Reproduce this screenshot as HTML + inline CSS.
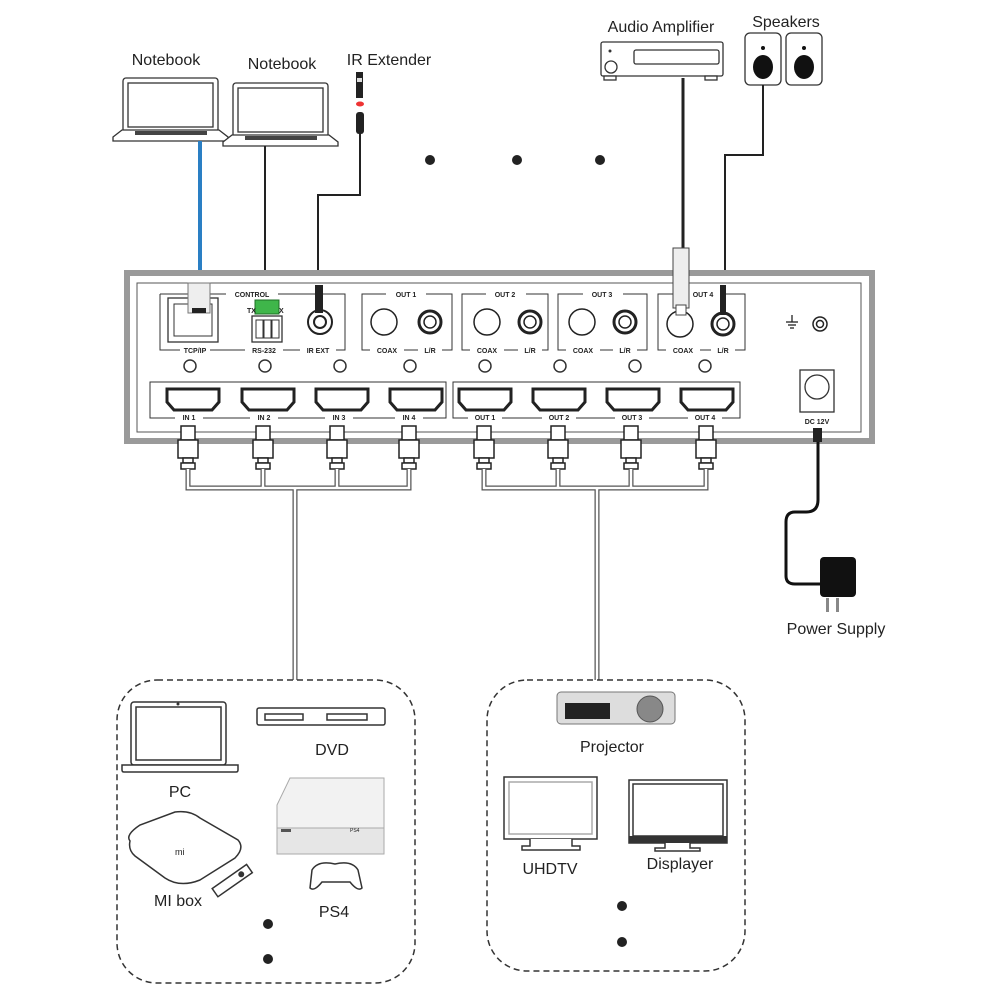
<!DOCTYPE html>
<html><head><meta charset="utf-8"><style>
html,body{margin:0;padding:0;background:#fff;}
svg{display:block;}
text{font-family:"Liberation Sans",Arial,sans-serif;fill:#222;}
.s{font-size:7px;font-weight:bold;}
</style></head><body>
<svg width="1000" height="1000" viewBox="0 0 1000 1000" xmlns="http://www.w3.org/2000/svg">
<defs>
<g id="pl"><rect x="-7" y="0" width="14" height="14"/><rect x="-10" y="14" width="20" height="18"/><rect x="-5" y="32" width="10" height="5"/><rect x="-7" y="37" width="14" height="6"/></g>
</defs>
<!-- Top labels -->
<text x="166" y="65" font-size="16" text-anchor="middle">Notebook</text>
<text x="282" y="69" font-size="16" text-anchor="middle">Notebook</text>
<text x="389" y="65" font-size="16" text-anchor="middle">IR Extender</text>
<text x="661" y="32" font-size="16" text-anchor="middle">Audio Amplifier</text>
<text x="786" y="27" font-size="16" text-anchor="middle">Speakers</text>

<g fill="#fff" stroke="#333" stroke-width="1.3">
<rect x="123" y="78" width="95" height="54" rx="3"/>
<rect x="128" y="83" width="85" height="44" fill="#fff"/>
<path d="M113 137 L122 130 L219 130 L228 137 L228 141 L113 141Z"/>
<rect x="233" y="83" width="95" height="55" rx="3"/>
<rect x="238" y="88" width="85" height="44"/>
<path d="M223 142 L232 135 L329 135 L338 142 L338 146 L223 146Z"/>
</g>
<rect x="135" y="131" width="72" height="4" fill="#444"/>
<rect x="245" y="136" width="72" height="4" fill="#444"/>

<rect x="356" y="72" width="7" height="26" fill="#222"/>
<rect x="357" y="78" width="5" height="4" fill="#ddd"/>
<ellipse cx="360" cy="104" rx="4" ry="2.5" fill="#e33"/>
<rect x="356" y="112" width="8" height="22" rx="3" fill="#222"/>

<line x1="200" y1="141" x2="200" y2="285" stroke="#2a7fc4" stroke-width="4"/>
<line x1="265" y1="146" x2="265" y2="300" stroke="#222" stroke-width="2"/>
<polyline points="360,134 360,195 318,195 318,300" fill="none" stroke="#222" stroke-width="2"/>
<circle cx="430" cy="160" r="5" fill="#222"/>
<circle cx="517" cy="160" r="5" fill="#222"/>
<circle cx="600" cy="160" r="5" fill="#222"/>

<g stroke="#333" stroke-width="1.3" fill="#fff">
<rect x="601" y="42" width="122" height="34" rx="2"/>
<rect x="634" y="50" width="85" height="14" rx="2"/>
<circle cx="611" cy="67" r="6"/>
<rect x="604" y="76" width="12" height="4"/>
<rect x="705" y="76" width="12" height="4"/>
</g>
<circle cx="610" cy="51" r="1.5" fill="#333"/>
<line x1="683" y1="78" x2="683" y2="248" stroke="#222" stroke-width="3"/>
<g stroke="#333" stroke-width="1.3" fill="#fff">
<rect x="745" y="33" width="36" height="52" rx="5"/>
<rect x="786" y="33" width="36" height="52" rx="5"/>
</g>
<circle cx="763" cy="48" r="2" fill="#111"/><circle cx="804" cy="48" r="2" fill="#111"/>
<ellipse cx="763" cy="67" rx="10" ry="12" fill="#111"/>
<ellipse cx="804" cy="67" rx="10" ry="12" fill="#111"/>
<polyline points="763,85 763,155 725,155 725,300" fill="none" stroke="#222" stroke-width="2"/>

<rect x="127" y="273" width="745" height="168" fill="#fff" stroke="#9a9a9a" stroke-width="6"/>
<rect x="137" y="283" width="724" height="149" fill="#fff" stroke="#555" stroke-width="1"/>

<g fill="none" stroke="#333" stroke-width="1">
<path d="M160 294 V350 H345 V294 H160"/>
<path d="M362 294 V350 H452 V294Z"/>
<path d="M462 294 V350 H548 V294Z"/>
<path d="M558 294 V350 H647 V294Z"/>
<path d="M658 294 V350 H745 V294Z"/>
</g>
<g fill="#fff">
<rect x="226" y="289" width="52" height="10"/>
<rect x="180" y="345" width="30" height="10"/>
<rect x="245" y="345" width="38" height="10"/>
<rect x="300" y="345" width="36" height="10"/>
<rect x="386" y="289" width="40" height="10"/><rect x="486" y="289" width="40" height="10"/>
<rect x="583" y="289" width="40" height="10"/><rect x="683" y="289" width="40" height="10"/>
<rect x="370" y="345" width="34" height="10"/><rect x="418" y="345" width="24" height="10"/>
<rect x="470" y="345" width="34" height="10"/><rect x="518" y="345" width="24" height="10"/>
<rect x="566" y="345" width="34" height="10"/><rect x="613" y="345" width="24" height="10"/>
<rect x="666" y="345" width="34" height="10"/><rect x="711" y="345" width="24" height="10"/>
</g>
<text class="s" x="252" y="297" text-anchor="middle">CONTROL</text>
<text class="s" x="195" y="353" text-anchor="middle">TCP/IP</text>
<text class="s" x="264" y="353" text-anchor="middle">RS-232</text>
<text class="s" x="318" y="353" text-anchor="middle">IR EXT</text>
<text class="s" x="406" y="297" text-anchor="middle">OUT 1</text>
<text class="s" x="505" y="297" text-anchor="middle">OUT 2</text>
<text class="s" x="602" y="297" text-anchor="middle">OUT 3</text>
<text class="s" x="703" y="297" text-anchor="middle">OUT 4</text>
<text class="s" x="387" y="353" text-anchor="middle">COAX</text><text class="s" x="430" y="353" text-anchor="middle">L/R</text>
<text class="s" x="487" y="353" text-anchor="middle">COAX</text><text class="s" x="530" y="353" text-anchor="middle">L/R</text>
<text class="s" x="583" y="353" text-anchor="middle">COAX</text><text class="s" x="625" y="353" text-anchor="middle">L/R</text>
<text class="s" x="683" y="353" text-anchor="middle">COAX</text><text class="s" x="723" y="353" text-anchor="middle">L/R</text>

<rect x="168" y="298" width="50" height="44" fill="#fff" stroke="#333" stroke-width="1.3"/>
<path d="M174 304 H212 V336 H174Z" fill="none" stroke="#333"/>
<rect x="188" y="283" width="22" height="30" fill="#eee" stroke="#777"/>
<rect x="192" y="308" width="14" height="5" fill="#222"/>
<rect x="252" y="316" width="30" height="26" fill="#fff" stroke="#333" stroke-width="1.3"/>
<rect x="256" y="320" width="7" height="18" fill="none" stroke="#333"/><rect x="264" y="320" width="7" height="18" fill="none" stroke="#333"/><rect x="272" y="320" width="7" height="18" fill="none" stroke="#333"/>
<rect x="255" y="300" width="24" height="14" fill="#3fb64a" stroke="#1d6f24"/>
<text class="s" x="247" y="313">TX</text><text class="s" x="279" y="313">X</text>
<circle cx="320" cy="322" r="12" fill="#fff" stroke="#222" stroke-width="2"/>
<circle cx="320" cy="322" r="6" fill="#fff" stroke="#222" stroke-width="2"/>
<rect x="315" y="285" width="8" height="28" fill="#222"/>
<g fill="#fff" stroke="#222" stroke-width="1.5">
<circle cx="384" cy="322" r="13"/><circle cx="430" cy="322" r="11" stroke-width="3"/><circle cx="430" cy="322" r="6"/>
<circle cx="487" cy="322" r="13"/><circle cx="530" cy="322" r="11" stroke-width="3"/><circle cx="530" cy="322" r="6"/>
<circle cx="582" cy="322" r="13"/><circle cx="625" cy="322" r="11" stroke-width="3"/><circle cx="625" cy="322" r="6"/>
<circle cx="680" cy="324" r="13"/><circle cx="723" cy="324" r="11" stroke-width="3"/><circle cx="723" cy="324" r="6"/>
<circle cx="820" cy="324" r="7"/><circle cx="820" cy="324" r="3.5"/>
</g>
<rect x="673" y="248" width="16" height="60" fill="#eee" stroke="#444"/>
<rect x="676" y="305" width="10" height="10" fill="#fff" stroke="#444"/>
<rect x="720" y="285" width="6" height="30" fill="#222"/>
<g stroke="#222" stroke-width="1.3"><line x1="792" y1="315" x2="792" y2="322"/><line x1="786" y1="322" x2="798" y2="322"/><line x1="788" y1="325" x2="796" y2="325"/><line x1="790" y1="328" x2="794" y2="328"/></g>
<g fill="#fff" stroke="#333" stroke-width="1.5">
<circle cx="190" cy="366" r="6"/><circle cx="265" cy="366" r="6"/><circle cx="340" cy="366" r="6"/><circle cx="410" cy="366" r="6"/>
<circle cx="485" cy="366" r="6"/><circle cx="560" cy="366" r="6"/><circle cx="635" cy="366" r="6"/><circle cx="705" cy="366" r="6"/>
</g>
<g fill="none" stroke="#333" stroke-width="1">
<path d="M150 382 V418 H446 V382 Z" />
<path d="M453 382 V418 H740 V382 Z" />
</g>
<g fill="#fff">
<rect x="175" y="413" width="28" height="10"/><rect x="250" y="413" width="28" height="10"/><rect x="325" y="413" width="28" height="10"/><rect x="395" y="413" width="28" height="10"/>
<rect x="468" y="413" width="34" height="10"/><rect x="542" y="413" width="34" height="10"/><rect x="615" y="413" width="34" height="10"/><rect x="688" y="413" width="34" height="10"/>
</g>
<text class="s" x="189" y="420" text-anchor="middle">IN 1</text><text class="s" x="264" y="420" text-anchor="middle">IN 2</text><text class="s" x="339" y="420" text-anchor="middle">IN 3</text><text class="s" x="409" y="420" text-anchor="middle">IN 4</text>
<text class="s" x="485" y="420" text-anchor="middle">OUT 1</text><text class="s" x="559" y="420" text-anchor="middle">OUT 2</text><text class="s" x="632" y="420" text-anchor="middle">OUT 3</text><text class="s" x="705" y="420" text-anchor="middle">OUT 4</text>
<g fill="#fff" stroke="#222" stroke-width="3">
<path d="M167 389 H219 V402 L212 410 H174 L167 402Z"/>
<path d="M242 389 H294 V402 L287 410 H249 L242 402Z"/>
<path d="M316 389 H368 V402 L361 410 H323 L316 402Z"/>
<path d="M390 389 H442 V402 L435 410 H397 L390 402Z"/>
<path d="M459 389 H511 V402 L504 410 H466 L459 402Z"/>
<path d="M533 389 H585 V402 L578 410 H540 L533 402Z"/>
<path d="M607 389 H659 V402 L652 410 H614 L607 402Z"/>
<path d="M681 389 H733 V402 L726 410 H688 L681 402Z"/>
</g>
<rect x="800" y="370" width="34" height="42" fill="#fff" stroke="#333" stroke-width="1.3"/>
<circle cx="817" cy="387" r="12" fill="#fff" stroke="#333" stroke-width="1.3"/>
<text class="s" x="817" y="424" text-anchor="middle">DC 12V</text>

<g fill="#fff" stroke="#222" stroke-width="1.5">
<use href="#pl" x="188" y="426"/><use href="#pl" x="263" y="426"/><use href="#pl" x="337" y="426"/><use href="#pl" x="409" y="426"/>
<use href="#pl" x="484" y="426"/><use href="#pl" x="558" y="426"/><use href="#pl" x="631" y="426"/><use href="#pl" x="706" y="426"/>
</g>
<g fill="none" stroke="#555" stroke-width="5"><path d="M188 469 V488 H409 V469 M263 469 V488 M337 469 V488 M295 488 V680"/>
<path d="M484 469 V488 H706 V469 M558 469 V488 M631 469 V488 M597 488 V680"/></g>
<g fill="none" stroke="#fff" stroke-width="2.5"><path d="M188 469 V488 H409 V469 M263 469 V488 M337 469 V488 M295 488 V680"/>
<path d="M484 469 V488 H706 V469 M558 469 V488 M631 469 V488 M597 488 V680"/></g>

<rect x="813" y="428" width="9" height="14" fill="#222"/>
<path d="M818 442 V500 Q818 512 806 512 H795 Q786 512 786 522 V576 Q786 584 795 584 H822" fill="none" stroke="#111" stroke-width="3"/>
<rect x="820" y="557" width="36" height="40" rx="4" fill="#111"/>
<rect x="826" y="598" width="3" height="14" fill="#888"/><rect x="836" y="598" width="3" height="14" fill="#888"/>
<text x="836" y="634" font-size="16" text-anchor="middle">Power Supply</text>

<rect x="117" y="680" width="298" height="303" rx="40" fill="none" stroke="#333" stroke-width="1.5" stroke-dasharray="6,4"/>
<rect x="487" y="680" width="258" height="291" rx="40" fill="none" stroke="#333" stroke-width="1.5" stroke-dasharray="6,4"/>

<g fill="#fff" stroke="#333" stroke-width="1.5">
<rect x="131" y="702" width="95" height="63" rx="3"/>
<rect x="136" y="707" width="85" height="53"/>
<path d="M122 765 H238 V770 Q238 772 236 772 H124 Q122 772 122 770Z"/>
</g>
<circle cx="178" cy="704" r="1.5" fill="#333"/>
<text x="180" y="797" font-size="16" text-anchor="middle">PC</text>
<g fill="#fff" stroke="#333" stroke-width="1.5">
<rect x="257" y="708" width="128" height="17" rx="2"/>
<rect x="265" y="714" width="38" height="6"/><rect x="327" y="714" width="40" height="6"/>
</g>
<text x="332" y="755" font-size="16" text-anchor="middle">DVD</text>
<path d="M130 841 Q125 835 140 825 L175 812 Q190 810 200 818 L238 840 Q245 848 235 858 L200 880 Q180 888 165 878 L135 856 Q128 850 130 841Z" fill="#fff" stroke="#333" stroke-width="1.5"/>
<text x="175" y="855" font-size="9" fill="#555">mi</text>
<g transform="rotate(-35 232 882)"><rect x="212" y="876" width="42" height="10" fill="#fff" stroke="#333" stroke-width="1.5"/><circle cx="244" cy="881" r="3" fill="#333"/></g>
<text x="178" y="906" font-size="16" text-anchor="middle">MI box</text>
<path d="M290 778 H384 V842 H277 V805Z" fill="#f2f2f2" stroke="#aaa"/>
<rect x="277" y="828" width="107" height="26" fill="#e6e6e6" stroke="#aaa"/>
<rect x="281" y="829" width="10" height="3" fill="#555"/>
<text x="350" y="832" font-size="5" fill="#999">PS4</text>
<path d="M312 870 Q318 860 335 864 Q352 860 358 870 L362 888 Q358 892 350 882 H322 Q314 892 310 888Z" fill="#fff" stroke="#333" stroke-width="1.5"/>
<text x="334" y="917" font-size="16" text-anchor="middle">PS4</text>
<circle cx="268" cy="924" r="5" fill="#222"/><circle cx="268" cy="959" r="5" fill="#222"/>

<rect x="557" y="692" width="118" height="32" rx="4" fill="#ddd" stroke="#777"/>
<rect x="565" y="703" width="45" height="16" fill="#222"/>
<circle cx="650" cy="709" r="13" fill="#888" stroke="#555"/>
<text x="612" y="752" font-size="16" text-anchor="middle">Projector</text>
<g fill="#fff" stroke="#333" stroke-width="1.5">
<rect x="504" y="777" width="93" height="62"/><rect x="509" y="782" width="83" height="52" stroke="#aaa"/>
<path d="M530 839 V846 H522 V850 H580 V846 H572 V839"/>
<rect x="629" y="780" width="98" height="63"/><rect x="633" y="784" width="90" height="52"/>
<path d="M665 843 V848 H655 V851 H700 V848 H690 V843"/>
</g>
<rect x="629" y="836" width="98" height="7" fill="#333"/>
<text x="550" y="874" font-size="16" text-anchor="middle">UHDTV</text>
<text x="680" y="869" font-size="16" text-anchor="middle">Displayer</text>
<circle cx="622" cy="906" r="5" fill="#222"/><circle cx="622" cy="942" r="5" fill="#222"/>
</svg>
</body></html>
